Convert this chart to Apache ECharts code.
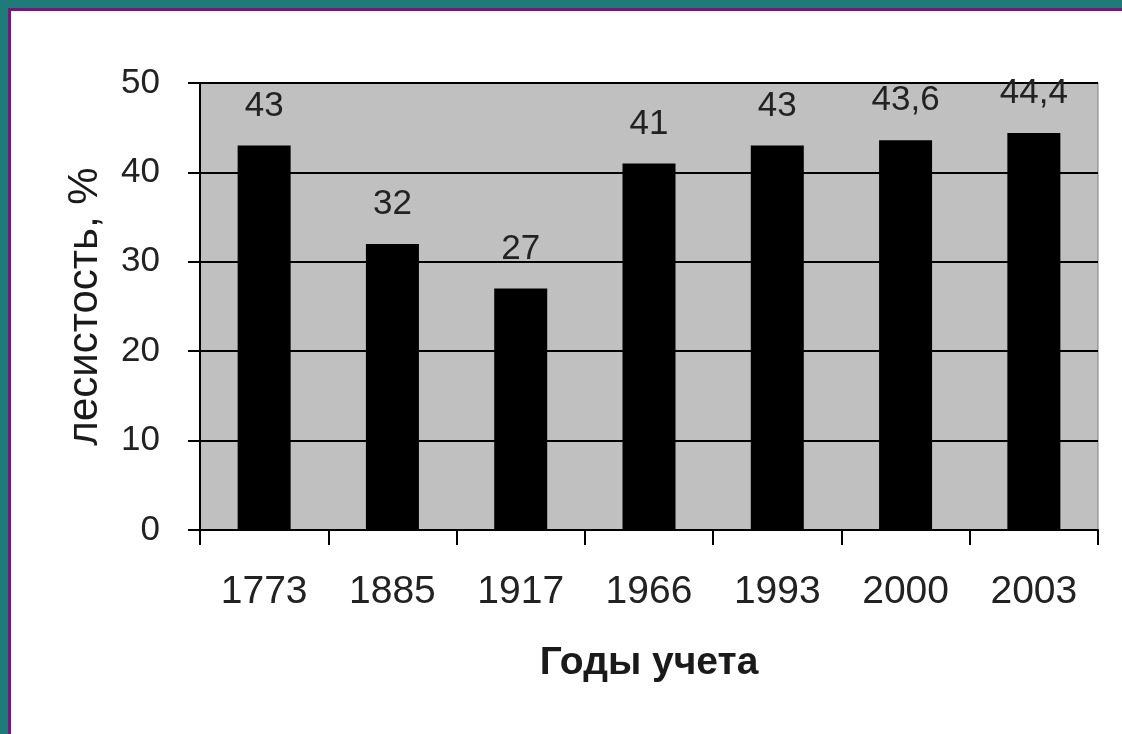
<!DOCTYPE html>
<html>
<head>
<meta charset="utf-8">
<script src="https://cdn.jsdelivr.net/npm/echarts@6/dist/echarts.min.js"></script>
<style>
    html, body { margin: 0; padding: 0; }
    body { width: 1122px; height: 734px; background: #1f7b78; position: relative; overflow: hidden; }
    #panel { position: absolute; left: 8px; top: 8px; right: 0; bottom: 0; background: #fff;
             border-left: 3px solid #6e1c74; border-top: 3px solid #6e1c74; }
    #chart { position: absolute; left: 0; top: 0; width: 1122px; height: 734px; }
</style>
</head>
<body>
<div id="panel"></div>
<div id="chart"></div>
<script>
    // годы учета и лесистость, %
    const years = ['1773', '1885', '1917', '1966', '1993', '2000', '2003'];
    const forestCover = [43, 32, 27, 41, 43, 43.6, 44.4];
    const yTicks = [0, 10, 20, 30, 40, 50];

    const font = '"Liberation Sans", Arial, sans-serif';
    const chart = echarts.init(document.getElementById('chart'));
    chart.setOption({
        animation: false,
        textStyle: {fontFamily: font},
        grid: {
            left: 200, top: 83, right: 24, bottom: 204,
            show: true,
            backgroundColor: '#c0c0c0',
            borderColor: '#808080',
            borderWidth: 1
        },
        xAxis: {
            type: 'category',
            data: years,
            name: 'Годы учета',
            nameLocation: 'middle',
            nameGap: 114,
            nameTextStyle: {fontSize: 39, fontWeight: 'bold', color: '#1a1a1a', fontFamily: font},
            axisLine: {lineStyle: {color: '#000', width: 2}},
            axisTick: {show: true, length: 15, lineStyle: {color: '#000', width: 2}},
            axisLabel: {fontSize: 39, color: '#222', margin: 43, fontFamily: font}
        },
        yAxis: {
            type: 'value',
            min: yTicks[0],
            max: yTicks[yTicks.length - 1],
            interval: 10,
            name: 'лесистость, %',
            nameLocation: 'middle',
            nameGap: 94,
            nameTextStyle: {fontSize: 42, color: '#1a1a1a', fontFamily: font},
            axisLine: {show: true, lineStyle: {color: '#000', width: 2}},
            axisTick: {show: true, length: 12, lineStyle: {color: '#000', width: 2}},
            axisLabel: {fontSize: 35, color: '#222', margin: 40, fontFamily: font},
            splitLine: {show: true, lineStyle: {color: '#000', width: 2}}
        },
        series: [{
            type: 'bar',
            data: forestCover,
            barWidth: 53,
            itemStyle: {color: '#000'},
            label: {
                show: true,
                position: 'top',
                distance: 22,
                fontSize: 35,
                color: '#222',
                fontFamily: font,
                formatter: p => String(p.value).replace('.', ',')
            }
        }]
    });
</script>
</body>
</html>
